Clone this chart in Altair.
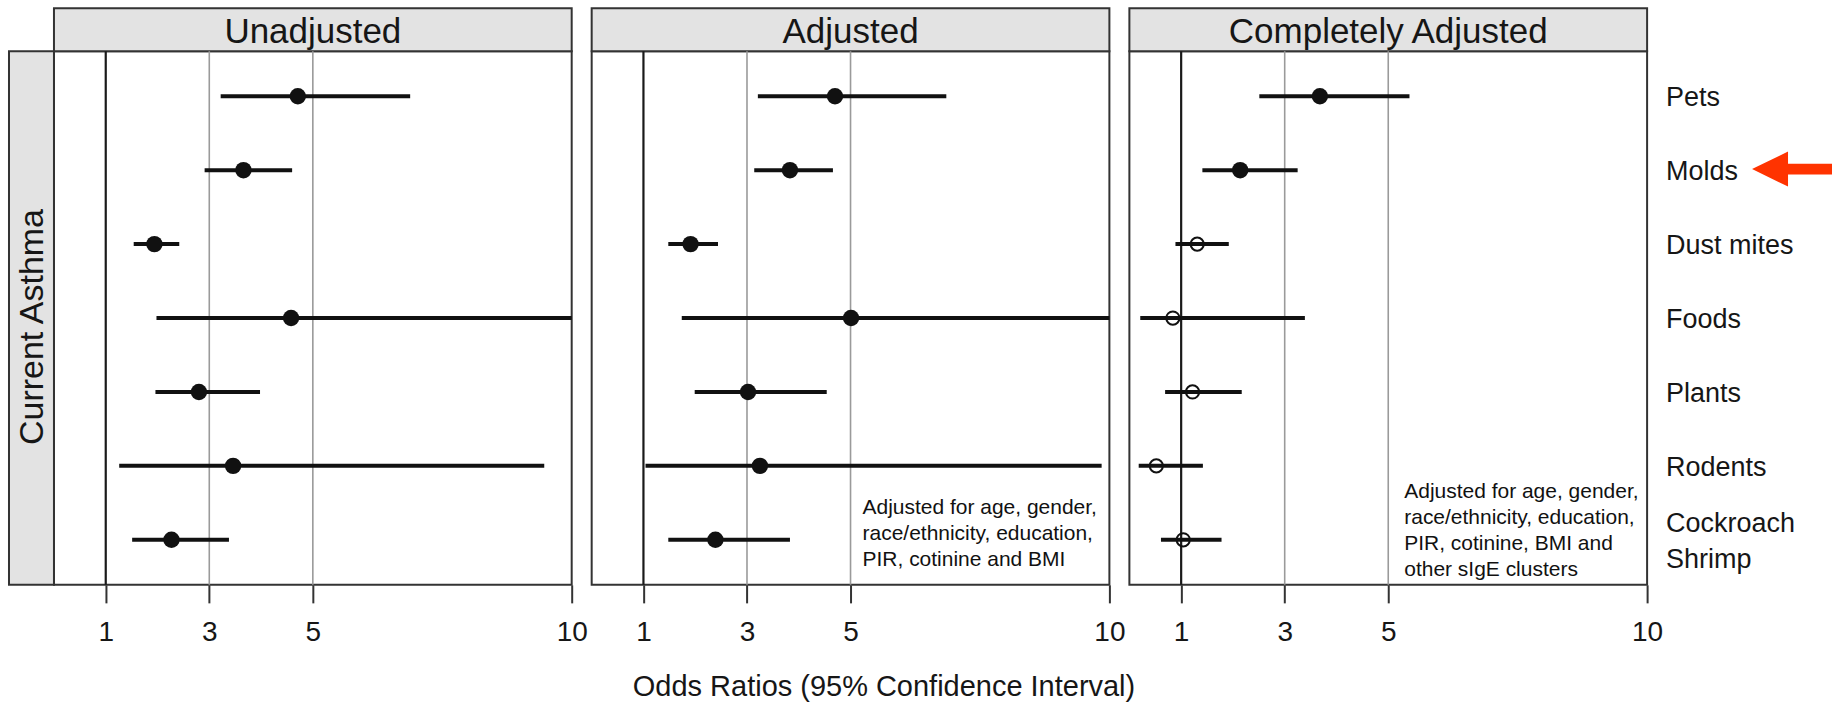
import altair as alt
import pandas as pd

# Allergen clusters, top to bottom
allergens = ["Pets", "Molds", "Dust mites", "Foods", "Plants", "Rodents", "Cockroach\nShrimp"]
panel_titles = ["Unadjusted", "Adjusted", "Completely Adjusted"]

# Odds ratios with 95% confidence limits (upper limits above 10 run off the axis)
unadj_or = [4.71, 3.66, 1.94, 4.58, 2.80, 3.46, 2.27]
unadj_lo = [3.22, 2.91, 1.54, 1.98, 1.96, 1.26, 1.51]
unadj_hi = [6.88, 4.60, 2.42, 11.5, 3.98, 9.47, 3.38]

adj_or = [4.70, 3.83, 1.91, 5.01, 3.02, 3.25, 2.39]
adj_lo = [3.21, 3.14, 1.48, 1.74, 1.99, 1.04, 1.48]
adj_hi = [6.85, 4.66, 2.44, 11.5, 4.54, 9.85, 3.83]

full_or = [3.68, 2.14, 1.31, 0.84, 1.22, 0.52, 1.04]
full_lo = [2.51, 1.41, 0.89, 0.21, 0.69, 0.18, 0.61]
full_hi = [5.41, 3.25, 1.92, 3.39, 2.17, 1.42, 1.78]

# Whether the interval excludes 1 (filled marker) or not (open marker)
unadj_sig = [True] * 7
adj_sig = [True] * 7
full_sig = [True, True, False, False, False, False, False]

# Reference lines and axis ticks
ref_values = [1, 3, 5]
ref_colors = ["#1a1a1a", "#9a9a9a", "#9a9a9a"]
ref_widths = [2.2, 1.6, 1.6]
tick_values = [1, 3, 5, 10]

note_adjusted = "Adjusted for age, gender,\nrace/ethnicity, education,\nPIR, cotinine and BMI"
note_complete = ("Adjusted for age, gender,\nrace/ethnicity, education,\n"
                 "PIR, cotinine, BMI and\nother sIgE clusters")

W, H = 518, 534
STRIP = 43
FONT = "Liberation Sans, Arial, Helvetica, sans-serif"
INK = "#111111"
TEXT = "#161616"

ARROW = ("M -1 0 L -0.1 -0.4375 L -0.1 -0.135 L 1 -0.135 "
         "L 1 0.135 L -0.1 0.135 L -0.1 0.4375 Z")


def frame(ors, los, his, sig):
    return pd.DataFrame({"allergen": allergens, "or": ors, "lo": los, "hi": his, "sig": sig})


def panel(title, data, axis_title=None, note=None, note_xy=None,
          left_strip=False, row_labels=False):
    xscale = alt.Scale(domain=[0, 10], nice=False, zero=False)
    yscale = alt.Scale(type="point", domain=allergens, padding=0.61)
    axis_kw = dict(
        values=tick_values, format="d", domain=False, grid=False, ticks=True,
        tickSize=18, tickWidth=2, tickColor="#333333",
        labelFontSize=28, labelFont=FONT, labelColor=TEXT,
        labelBaseline="alphabetic", labelPadding=38,
        labelFlush=False, labelOverlap=False,
    )
    if axis_title:
        axis = alt.Axis(title=axis_title, titleFontSize=29, titleFont=FONT,
                        titleFontWeight="normal", titleColor=TEXT,
                        titleBaseline="alphabetic", titleX=292, titleY=111,
                        **axis_kw)
    else:
        axis = alt.Axis(title=None, **axis_kw)

    def X(field):
        return alt.X(f"{field}:Q", scale=xscale, axis=axis)

    Y = alt.Y("allergen:N", scale=yscale, axis=None, sort=allergens)

    hdr = pd.DataFrame({"label": [title]})
    header_box = alt.Chart(hdr).mark_rect(
        fill="#e3e3e3", stroke="#333333", strokeWidth=2
    ).encode(x=alt.value(0), x2=alt.value(W), y=alt.value(-STRIP), y2=alt.value(0))
    header_txt = alt.Chart(hdr).mark_text(
        fontSize=35, font=FONT, color=TEXT, baseline="alphabetic", align="center"
    ).encode(x=alt.value(W / 2), y=alt.value(-8), text="label:N")

    refs = pd.DataFrame({"value": ref_values, "col": ref_colors, "w": ref_widths})
    ref_rules = alt.Chart(refs).mark_rule().encode(
        x=X("value"),
        y=alt.value(0), y2=alt.value(H),
        color=alt.Color("col:N", scale=None),
        strokeWidth=alt.StrokeWidth("w:Q", scale=None),
    )

    base = alt.Chart(data)
    ci = base.mark_rule(strokeWidth=4, color=INK, clip=True).encode(
        x=X("lo"), x2="hi:Q", y=Y
    )
    filled = base.transform_filter("datum.sig").mark_circle(
        size=270, color=INK, opacity=1
    ).encode(x=X("or"), y=Y)
    hollow = base.transform_filter("!datum.sig").mark_point(
        shape="circle", filled=False, size=175, strokeWidth=2, color=INK, opacity=1
    ).encode(x=X("or"), y=Y)

    layers = [header_box, header_txt, ref_rules, ci, filled, hollow]

    if note:
        nd = pd.DataFrame({"note": [note]})
        layers.append(alt.Chart(nd).mark_text(
            fontSize=21, font=FONT, color=INK, align="left", baseline="alphabetic",
            lineBreak="\n", lineHeight=26
        ).encode(x=alt.value(note_xy[0]), y=alt.value(note_xy[1]), text="note:N"))

    if left_strip:
        sd = pd.DataFrame({"label": ["Current Asthma"]})
        layers.append(alt.Chart(sd).mark_rect(
            fill="#e3e3e3", stroke="#333333", strokeWidth=2
        ).encode(x=alt.value(-45), x2=alt.value(0), y=alt.value(0), y2=alt.value(H)))
        layers.append(alt.Chart(sd).mark_text(
            fontSize=34, font=FONT, color=TEXT, angle=270, baseline="middle", align="center"
        ).encode(x=alt.value(-20.5), y=alt.value(H / 2 + 9), text="label:N"))

    if row_labels:
        ld = pd.DataFrame({"allergen": allergens})
        one_line = alt.Chart(ld).transform_filter(
            "indexof(datum.allergen, '\\n') < 0"
        ).mark_text(
            fontSize=27, font=FONT, color=TEXT, align="left", baseline="middle", dy=2
        ).encode(x=alt.value(W + 19), y=Y, text="allergen:N")
        two_line = alt.Chart(ld).transform_filter(
            "indexof(datum.allergen, '\\n') >= 0"
        ).mark_text(
            fontSize=27, font=FONT, color=TEXT, align="left", baseline="middle",
            lineBreak="\n", lineHeight=36, dy=-16
        ).encode(x=alt.value(W + 19), y=Y, text="allergen:N")
        layers += [one_line, two_line]
        ad = pd.DataFrame({"mark": ["arrow"]})
        layers.append(alt.Chart(ad).mark_point(
            shape=ARROW, filled=True, color="#ff3300", opacity=1, size=6400, strokeWidth=0
        ).encode(x=alt.value(663), y=alt.value(118)))

    return alt.layer(*layers).properties(width=W, height=H)


p1 = panel(panel_titles[0], frame(unadj_or, unadj_lo, unadj_hi, unadj_sig), left_strip=True)
p2 = panel(panel_titles[1], frame(adj_or, adj_lo, adj_hi, adj_sig),
           axis_title="Odds Ratios (95% Confidence Interval)",
           note=note_adjusted, note_xy=(271, 463))
p3 = panel(panel_titles[2], frame(full_or, full_lo, full_hi, full_sig),
           note=note_complete, note_xy=(275, 447), row_labels=True)

chart = alt.hconcat(p1, p2, p3, spacing=20, bounds="flush").configure(
    padding={"left": 7, "top": 6, "right": 0, "bottom": 0},
    background="white",
).configure_view(stroke="#333333", strokeWidth=2)

chart.save("out.html", embed_options={"renderer": "svg", "actions": False})
